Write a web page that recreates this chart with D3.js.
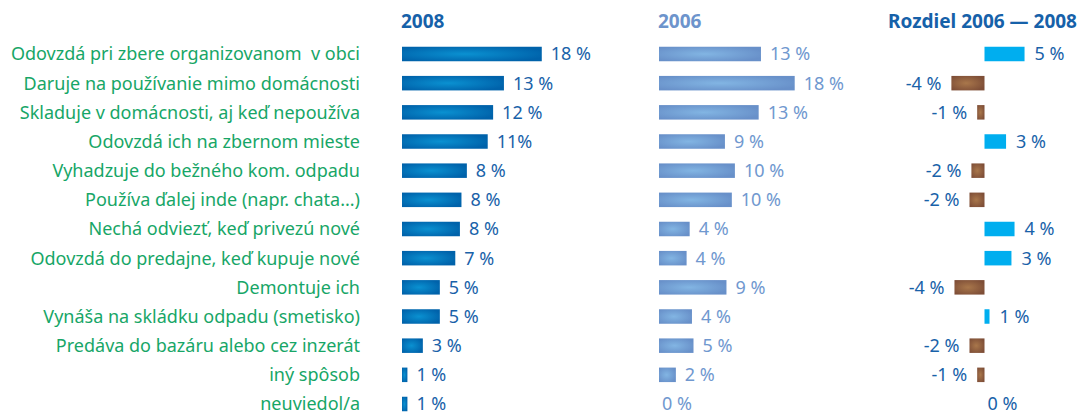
<!DOCTYPE html>
<html>
<head>
<meta charset="utf-8">
<script src="https://cdn.jsdelivr.net/npm/d3@7"></script>
<style>
  body { margin: 0; background: #fff; }
  svg text { font-family: "Noto Sans", "Open Sans", sans-serif; white-space: pre; }
</style>
</head>
<body>
<script>
const categories = [
    'Odovzdá pri zbere organizovanom  v obci',
    'Daruje na používanie mimo domácnosti',
    'Skladuje v domácnosti, aj keď nepoužíva',
    'Odovzdá ich na zbernom mieste',
    'Vyhadzuje do bežného kom. odpadu',
    'Používa ďalej inde (napr. chata...)',
    'Nechá odviezť, keď privezú nové',
    'Odovzdá do predajne, keď kupuje nové',
    'Demontuje ich',
    'Vynáša na skládku odpadu (smetisko)',
    'Predáva do bazáru alebo cez inzerát',
    'iný spôsob',
    'neuviedol/a'
];

// bar lengths (percent)
const values2008 = [18.1, 13.2, 11.8, 11.1, 8.4, 7.7, 7.5, 6.9, 4.9, 4.9, 2.7, 0.7, 0.7];
const values2006 = [13.3, 17.7, 13.0, 8.6, 9.9, 9.5, 4.0, 3.6, 8.8, 4.3, 4.5, 2.2, 0];
const valuesDiff = [5.2, -4.3, -0.95, 2.8, -1.7, -1.95, 3.9, 3.5, -3.9, 0.65, -1.95, -0.95, 0];

// printed labels
const labels2008 = ['18 %', '13 %', '12 %', '11%', '8 %', '8 %', '8 %', '7 %', '5 %', '5 %', '3 %', '1 %', '1 %'];
const labels2006 = ['13 %', '18 %', '13 %', '9 %', '10 %', '10 %', '4 %', '4 %', '9 %', '4 %', '5 %', '2 %', '0 %'];
const labelsDiff = ['5 %', '-4 %', '-1 %', '3 %', '-2 %', '-2 %', '4 %', '3 %', '-4 %', '1 %', '-2 %', '-1 %', '0 %'];

const headers = ['2008', '2006', 'Rozdiel 2006 \u2014 2008'];

const width = 1080, height = 414;
const barH = 14.5;
const fs = 18;

const svg = d3.select('body').append('svg')
    .attr('width', width)
    .attr('height', height);

const defs = svg.append('defs');
function glow(id, inner, outer) {
    const g = defs.append('radialGradient')
        .attr('id', id)
        .attr('cx', 0.45).attr('cy', 0.5).attr('r', 0.6);
    g.append('stop').attr('offset', '0%').attr('stop-color', inner);
    g.append('stop').attr('offset', '100%').attr('stop-color', outer);
}
glow('g2008', '#0a91d1', '#0062aa');
glow('g2006', '#82b5e3', '#6890c9');
glow('gneg', '#a9774b', '#7e4e37');

const y = d3.scalePoint()
    .domain(categories)
    .range([54, 404]);

const x2008 = d3.scaleLinear().domain([0, 18]).range([402, 541]);
const x2006 = d3.scaleLinear().domain([0, 18]).range([659, 797]);
const xDiff = d3.scaleLinear().domain([0, 5]).range([984.5, 1023]);

// headers
svg.append('text')
    .attr('x', 401).attr('y', 28)
    .attr('font-size', 19).attr('font-weight', 'bold')
    .attr('fill', '#1661a9')
    .text(headers[0]);
svg.append('text')
    .attr('x', 658).attr('y', 28)
    .attr('font-size', 19).attr('font-weight', 'bold')
    .attr('fill', '#6d94cc')
    .text(headers[1]);
svg.append('text')
    .attr('x', 1077).attr('y', 28)
    .attr('text-anchor', 'end')
    .attr('font-size', 19).attr('font-weight', 'bold')
    .attr('fill', '#1661a9')
    .text(headers[2]);

// category labels
svg.append('g').selectAll('text')
    .data(categories)
    .enter()
    .append('text')
    .attr('x', 360)
    .attr('y', d => y(d))
    .attr('dy', '0.36em')
    .attr('text-anchor', 'end')
    .attr('font-size', fs)
    .attr('fill', '#17a667')
    .text(d => d);

// 2008
const g08 = svg.append('g');
g08.selectAll('rect')
    .data(values2008)
    .enter()
    .append('rect')
    .attr('x', x2008(0))
    .attr('y', (d, i) => y(categories[i]) - barH / 2)
    .attr('width', d => x2008(d) - x2008(0))
    .attr('height', barH)
    .attr('fill', 'url(#g2008)');
g08.selectAll('text')
    .data(values2008)
    .enter()
    .append('text')
    .attr('x', d => x2008(d) + 9)
    .attr('y', (d, i) => y(categories[i]))
    .attr('dy', '0.36em')
    .attr('font-size', fs)
    .attr('fill', '#1962a9')
    .text((d, i) => labels2008[i]);

// 2006
const g06 = svg.append('g');
g06.selectAll('rect')
    .data(values2006)
    .enter()
    .append('rect')
    .attr('x', x2006(0))
    .attr('y', (d, i) => y(categories[i]) - barH / 2)
    .attr('width', d => x2006(d) - x2006(0))
    .attr('height', barH)
    .attr('fill', 'url(#g2006)');
g06.selectAll('text')
    .data(values2006)
    .enter()
    .append('text')
    .attr('x', d => x2006(d) + (d > 0 ? 9 : 3))
    .attr('y', (d, i) => y(categories[i]))
    .attr('dy', '0.36em')
    .attr('font-size', fs)
    .attr('fill', '#7098cf')
    .text((d, i) => labels2006[i]);

// difference
const gd = svg.append('g');
gd.selectAll('rect')
    .data(valuesDiff)
    .enter()
    .append('rect')
    .attr('x', d => xDiff(Math.min(0, d)))
    .attr('y', (d, i) => y(categories[i]) - barH / 2)
    .attr('width', d => Math.abs(xDiff(d) - xDiff(0)))
    .attr('height', barH)
    .attr('fill', d => d < 0 ? 'url(#gneg)' : '#00aeef');
gd.selectAll('text')
    .data(valuesDiff)
    .enter()
    .append('text')
    .attr('x', d => d < 0 ? xDiff(d) - 10 : xDiff(d) + (d > 0 ? 10 : 3))
    .attr('y', (d, i) => y(categories[i]))
    .attr('dy', '0.36em')
    .attr('text-anchor', d => d < 0 ? 'end' : 'start')
    .attr('font-size', fs)
    .attr('fill', '#1962a9')
    .text((d, i) => labelsDiff[i]);
</script>
</body>
</html>
